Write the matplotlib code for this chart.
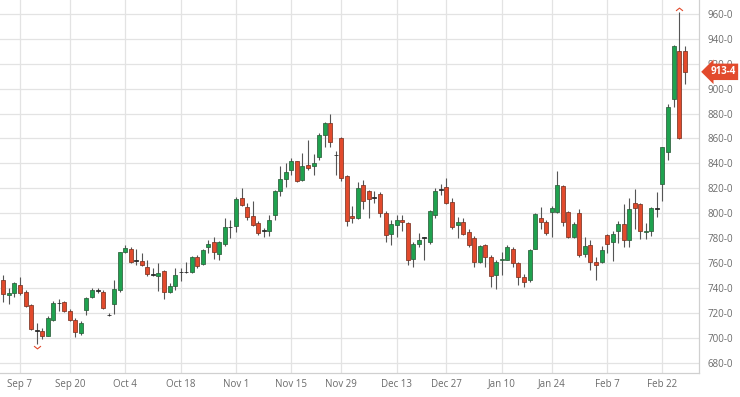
import numpy as np
import pandas as pd
import matplotlib
matplotlib.use("Agg")
import matplotlib.pyplot as plt
from matplotlib.path import Path

# daily OHLC, Sep 1 2021 -> Feb 28 2022 (trading days only)
holidays = ["2021-09-06", "2021-11-25", "2021-12-24", "2022-01-17", "2022-02-21"]

opens = [746, 734, 735.5, 742, 736.5, 726, 705.5, 705.5, 701.5, 714, 727.5, 728.5, 721.5,
         714, 704, 722, 733, 737.5, 737, 718, 727, 738.5, 768.5, 771, 762, 761.5, 756.5,
         750.5, 749.5, 753.5, 736.5, 741.5, 752.5, 752.5, 753, 765, 759.5, 773, 776.5, 767,
         775, 788.5, 790, 812, 805, 797.5, 792, 786, 785.5, 798.5, 818, 827.5, 834.5, 841.5,
         826.5, 838.5, 838, 845, 862.5, 872, 846.5, 860, 830, 798, 796, 822.5, 817.5, 812.5,
         815, 800.5, 783.5, 790.5, 794.5, 792, 763, 775.5, 780, 776.5, 798.5, 818.5, 821,
         809, 790.5, 793, 784.5, 780, 761, 774.5, 765, 750.5, 762, 762.5, 771, 760, 749,
         746, 771.5, 796, 792.5, 801, 801, 822, 801, 781, 800.5, 767, 774.5, 761, 761,
         782.5, 777, 785.5, 791, 778.5, 808.5, 807, 785, 785.5, 803.5, 823.5, 849, 891.5,
         930, 930]
highs = [750, 740, 745, 748.5, 738.5, 727, 712, 708, 717, 729.5, 731, 729.5, 723,
         715.5, 713, 733, 739.5, 740, 738.5, 719.5, 746, 769, 774.5, 773, 771, 768, 762.5,
         756, 760, 754.5, 744, 756, 756, 760.5, 765.5, 766.5, 771, 778.5, 780.5, 777.5,
         796, 794.5, 813, 820, 808, 809.5, 793.5, 788, 798.5, 818.5, 837.5, 840.5, 844, 842,
         848.5, 858.5, 847.5, 864, 873.5, 879.5, 850, 861.5, 830.5, 805.5, 825, 826.5, 818.5,
         817.5, 817, 801.5, 794.5, 798.5, 798.5, 792.5, 777, 784, 781, 802.5, 820, 823.5, 828,
         812, 797, 796, 787, 782, 774.5, 775.5, 766.5, 762, 768.5, 774.5, 772.5, 761, 751,
         771.5, 800, 805, 794.5, 806, 834, 822.5, 802, 793, 803.5, 781, 778.5, 765, 773.5,
         783.5, 786, 793.5, 807, 812, 819, 808, 792, 805, 817, 853.5, 888, 935,
         961.5, 934.5]
lows = [729, 727, 733, 734, 725, 706, 695, 699, 701, 713, 721, 720.5, 713,
        700.5, 702, 718, 731.5, 735.5, 723, 717, 719, 737, 768, 760, 758.5, 757.5, 749.5,
        749.5, 737.5, 731, 736, 738.5, 745.5, 752, 752, 756, 758.5, 768, 763, 762,
        774, 780, 784.5, 805.5, 794.5, 789.5, 782.5, 781, 781.5, 794.5, 813.5, 821, 830.5, 825,
        825.5, 835, 830.5, 843, 853.5, 853.5, 830.5, 825.5, 790, 792, 795.5, 803, 796,
        808, 797, 777, 774.5, 781, 785.5, 758, 757, 773, 762.5, 775.5, 796, 814.5, 807.5,
        787, 780, 782.5, 773, 757, 760, 756.5, 740.5, 739, 750.5, 762, 756.5, 742.5, 741,
        745, 771, 787, 782.5, 781, 800, 789.5, 780, 780, 765, 765, 754.5, 746.5, 760,
        768, 761.5, 776, 772.5, 772.5, 787.5, 779.5, 779.5, 781.5, 796.5, 810, 842.5, 885.5,
        859.5, 903.5]
closes = [735, 736, 743.5, 735.5, 725.5, 707, 706, 701.5, 715.5, 728, 728, 721.5, 714,
          704.5, 711.5, 731.5, 738.5, 738, 723.5, 718.5, 739, 768.5, 772, 760.5, 761.5, 758.5,
          751, 751, 752, 736.5, 741.5, 750.5, 753, 753, 765, 757.5, 770, 775, 768.5, 776.5,
          789, 789, 811, 806.5, 797, 790.5, 784, 786.5, 794.5, 818, 827.5, 833, 841.5, 825.5,
          837.5, 836.5, 840.5, 862.5, 872.5, 857, 847, 828.5, 794, 796, 820, 810, 811, 813,
          800, 782.5, 791, 794.5, 792.5, 762, 775.5, 778.5, 780.5, 802, 818, 819, 808.5,
          788.5, 792.5, 783, 774.5, 761, 773.5, 764.5, 749.5, 761, 763.5, 773, 760, 748.5,
          744.5, 770.5, 799, 792.5, 784, 804, 822.5, 793, 781, 791.5, 766.5, 773.5, 761, 758,
          770.5, 775.5, 783.5, 791, 778.5, 803.5, 804.5, 785.5, 786, 804, 804, 853, 885,
          934.5, 860, 913.5]

tick_dates = ["2021-09-07", "2021-09-20", "2021-10-04", "2021-10-18", "2021-11-01",
              "2021-11-15", "2021-11-29", "2021-12-13", "2021-12-27", "2022-01-10",
              "2022-01-24", "2022-02-07", "2022-02-22"]
price_ticks = list(range(680, 961, 20))

df = pd.DataFrame({"open": opens, "high": highs, "low": lows, "close": closes},
                  index=pd.bdate_range("2021-09-01", "2022-02-28", freq="C", holidays=holidays))

plt.rcParams["font.family"] = ["Open Sans", "DejaVu Sans"]
GREEN, RED = "#1fa24f", "#e24a2c"
GRID, TXT = "#e3e3e3", "#6b6b6b"


def fmt_price(p):
    whole = int(p)
    return f"{whole}-{int(round((p - whole) * 8))}"


fig = plt.figure(figsize=(7.4, 3.97), dpi=100)
ax = fig.add_axes([0, 0.0605, 0.9446, 0.9395])

x = np.arange(len(df))
up = df["close"] >= df["open"]
doji = (df["close"] - df["open"]).abs() < 1
body_col = np.where(doji, "#333333", np.where(up, GREEN, RED))
edge_col = np.where(doji, "#222222", np.where(up, "#2d5e3c", "#7a3424"))

ax.vlines(x, df["low"], df["high"], color="#555555", lw=0.8, zorder=2)
ax.bar(x, (df["close"] - df["open"]).abs().clip(lower=0.3),
       bottom=df[["open", "close"]].min(axis=1), width=0.72,
       color=body_col, edgecolor=edge_col, linewidth=0.55, zorder=3)

# little red carets at the extremes
chev_up = Path([(-1, -0.4), (0, 0.4), (1, -0.4)], [Path.MOVETO, Path.LINETO, Path.LINETO])
chev_dn = Path([(-1, 0.4), (0, -0.4), (1, 0.4)], [Path.MOVETO, Path.LINETO, Path.LINETO])
hi_i, lo_i = int(np.argmax(df["high"])), int(np.argmin(df["low"]))
ax.plot(hi_i, df["high"].iloc[hi_i] + 2.5, marker=chev_up, ms=5, mfc="none",
        mec=RED, mew=0.8, zorder=4, clip_on=False)
ax.plot(lo_i, df["low"].iloc[lo_i] - 2.5, marker=chev_dn, ms=5, mfc="none",
        mec=RED, mew=0.8, zorder=4)

ax.set_xlim(-0.61, 125.6)
ax.set_ylim(671.6, 971.2)

tick_pos = [df.index.get_loc(pd.Timestamp(d)) for d in tick_dates]
ax.set_xticks(tick_pos)
ax.set_xticklabels([f"{pd.Timestamp(d):%b} {pd.Timestamp(d).day}" for d in tick_dates])
ax.set_yticks(price_ticks)
ax.set_yticklabels([f"{v}-0" for v in price_ticks])
ax.yaxis.tick_right()
ax.tick_params(axis="both", length=0, colors=TXT, labelsize=7)
ax.tick_params(axis="y", pad=6)
ax.tick_params(axis="x", pad=4)
ax.grid(True, color=GRID, lw=0.9)
ax.set_axisbelow(True)
for side in ["left", "top"]:
    ax.spines[side].set_visible(False)
for side in ["right", "bottom"]:
    ax.spines[side].set_color("#d0d0d0")
    ax.spines[side].set_linewidth(0.9)

# last price tag
ax.text(1.016, df["close"].iloc[-1], fmt_price(df["close"].iloc[-1]),
        transform=ax.get_yaxis_transform(), color="white", fontsize=7,
        fontweight="bold", va="center", ha="left", zorder=5,
        bbox=dict(boxstyle="larrow,pad=0.28", fc=RED, ec="none"))

fig.savefig("out.png", dpi=100)
